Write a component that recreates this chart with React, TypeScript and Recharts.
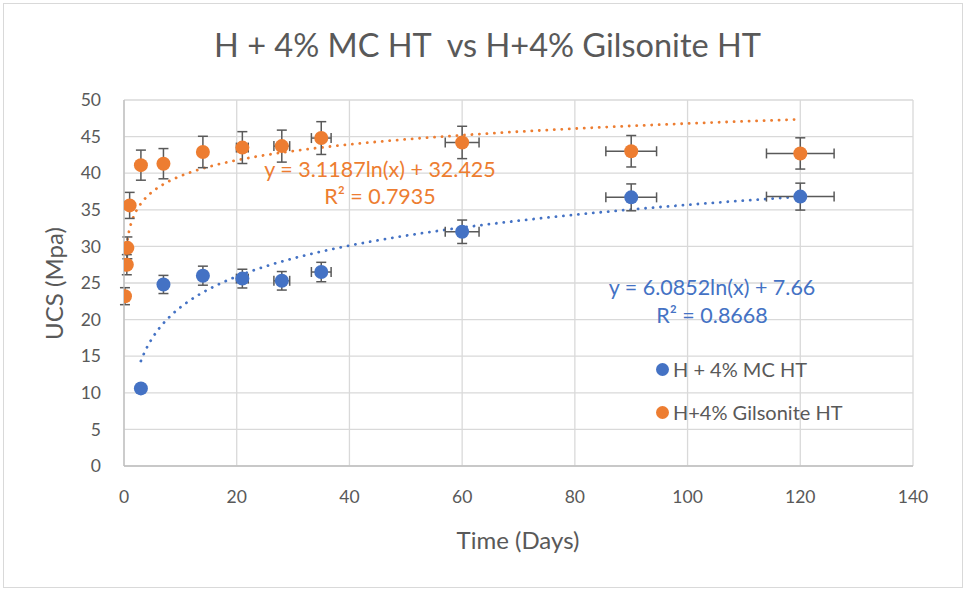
import React from 'react';
import {
  ComposedChart,
  Scatter,
  Line,
  XAxis,
  YAxis,
  CartesianGrid,
  ErrorBar,
} from 'recharts';

// measured UCS values
const mcDays = [3, 7, 14, 21, 28, 35, 60, 90, 120];
const mcUcs = [10.6, 24.8, 26.0, 25.6, 25.3, 26.5, 32.0, 36.7, 36.8];

const gilDays = [0.17, 0.5, 0.6, 1, 3, 7, 14, 21, 28, 35, 60, 90, 120];
const gilUcs = [23.2, 27.5, 29.8, 35.6, 41.1, 41.3, 42.9, 43.5, 43.7, 44.8, 44.2, 43.0, 42.7];

// log trendline coefficients: y = a ln(x) + b
const mcFit = { a: 6.0852, b: 7.66, r2: 0.8668 };
const gilFit = { a: 3.1187, b: 32.425, r2: 0.7935 };

const xTicks = [0, 20, 40, 60, 80, 100, 120, 140];
const yTicks = [0, 5, 10, 15, 20, 25, 30, 35, 40, 45, 50];

// 5% error bars on both axes
const ERR_PCT = 0.05;

const BLUE = '#4472C4';
const ORANGE = '#ED7D31';
const TEXT = '#595959';
const FONT = 'Lato, "Open Sans", sans-serif';

const toPoints = (days: number[], ucs: number[]) =>
  days.map((d, i) => ({ x: d, y: ucs[i], ex: d * ERR_PCT, ey: ucs[i] * ERR_PCT }));

const trendPoints = (fit: { a: number; b: number }, from: number, to: number) => {
  const pts: { x: number; y: number }[] = [];
  const n = 200;
  for (let i = 0; i <= n; i++) {
    const x = from * Math.pow(to / from, i / n);
    pts.push({ x, y: fit.a * Math.log(x) + fit.b });
  }
  return pts;
};

const mcPoints = toPoints(mcDays, mcUcs);
const gilPoints = toPoints(gilDays, gilUcs);
const mcTrend = trendPoints(mcFit, Math.min(...mcDays), Math.max(...mcDays));
const gilTrend = trendPoints(gilFit, Math.min(...gilDays), Math.max(...gilDays));

const Dot = (props: any) => <circle cx={props.cx} cy={props.cy} r={7} fill={props.fill} />;

const fmtEq = (fit: { a: number; b: number }) => `y = ${fit.a}ln(x) + ${fit.b}`;

const legendItems = [
  { name: 'H + 4% MC HT', color: BLUE },
  { name: 'H+4% Gilsonite HT', color: ORANGE },
];

export default function App() {
  const tick = { fill: TEXT, fontSize: 17.5, fontFamily: FONT };
  return (
    <div
      style={{
        position: 'absolute',
        left: 0,
        top: 0,
        width: 967,
        height: 592,
        background: '#fff',
        fontFamily: FONT,
        color: TEXT,
      }}
    >
      <div
        style={{
          position: 'absolute',
          left: 3,
          top: 3,
          width: 958,
          height: 583,
          border: '1px solid #d9d9d9',
        }}
      />
      <ComposedChart
        width={967}
        height={592}
        margin={{ top: 100, right: 54, left: 64, bottom: 86 }}
      >
        <CartesianGrid stroke="#d9d9d9" strokeWidth={1.3} />
        <XAxis
          type="number"
          dataKey="x"
          domain={[0, 140]}
          ticks={xTicks}
          tick={tick}
          tickLine={false}
          tickMargin={19}
          height={40}
          axisLine={{ stroke: '#bfbfbf', strokeWidth: 1.3 }}
          allowDataOverflow
        />
        <YAxis
          type="number"
          dataKey="y"
          domain={[0, 50]}
          ticks={yTicks}
          tick={tick}
          tickLine={false}
          tickMargin={17}
          width={60}
          axisLine={{ stroke: '#bfbfbf', strokeWidth: 1.3 }}
          allowDataOverflow
        />
        <Line
          data={gilTrend}
          dataKey="y"
          type="linear"
          dot={false}
          activeDot={false}
          stroke={ORANGE}
          strokeWidth={2.8}
          strokeDasharray="0.1 7.4"
          strokeLinecap="round"
          isAnimationActive={false}
        />
        <Line
          data={mcTrend}
          dataKey="y"
          type="linear"
          dot={false}
          activeDot={false}
          stroke={BLUE}
          strokeWidth={2.8}
          strokeDasharray="0.1 7.4"
          strokeLinecap="round"
          isAnimationActive={false}
        />
        <Scatter data={gilPoints} dataKey="y" fill={ORANGE} shape={Dot} isAnimationActive={false}>
          <ErrorBar dataKey="ey" direction="y" width={5} stroke={TEXT} strokeWidth={1.5} />
          <ErrorBar dataKey="ex" direction="x" width={5} stroke={TEXT} strokeWidth={1.5} />
        </Scatter>
        <Scatter data={mcPoints} dataKey="y" fill={BLUE} shape={Dot} isAnimationActive={false}>
          <ErrorBar dataKey="ey" direction="y" width={5} stroke={TEXT} strokeWidth={1.5} />
          <ErrorBar dataKey="ex" direction="x" width={5} stroke={TEXT} strokeWidth={1.5} />
        </Scatter>
      </ComposedChart>

      <div
        style={{
          position: 'absolute',
          left: 0,
          width: 975,
          top: 25,
          textAlign: 'center',
          fontSize: 32.5,
          whiteSpace: 'pre',
        }}
      >
        {'H + 4% MC HT  vs H+4% Gilsonite HT'}
      </div>

      <div
        style={{
          position: 'absolute',
          left: 418,
          width: 200,
          top: 525,
          textAlign: 'center',
          fontSize: 24,
        }}
      >
        Time (Days)
      </div>
      <div
        style={{
          position: 'absolute',
          left: 53,
          top: 284,
          width: 0,
          height: 0,
        }}
      >
        <div
          style={{
            position: 'absolute',
            left: -100,
            top: -15,
            width: 200,
            textAlign: 'center',
            fontSize: 24,
            transform: 'rotate(-90deg)',
          }}
        >
          UCS (Mpa)
        </div>
      </div>

      <div
        style={{
          position: 'absolute',
          left: 230,
          width: 300,
          top: 156,
          textAlign: 'center',
          fontSize: 21.5,
          lineHeight: '27px',
          color: ORANGE,
        }}
      >
        <div>{fmtEq(gilFit)}</div>
        <div>R² = {gilFit.r2}</div>
      </div>
      <div
        style={{
          position: 'absolute',
          left: 562,
          width: 300,
          top: 273,
          textAlign: 'center',
          fontSize: 21.5,
          lineHeight: '28px',
          color: BLUE,
        }}
      >
        <div>{fmtEq(mcFit)}</div>
        <div>R² = {mcFit.r2}</div>
      </div>

      <div style={{ position: 'absolute', left: 656, top: 355, fontSize: 20 }}>
        {legendItems.map((item) => (
          <div
            key={item.name}
            style={{ display: 'flex', alignItems: 'center', height: 28, marginBottom: 15 }}
          >
            <span
              style={{
                display: 'inline-block',
                width: 13,
                height: 13,
                borderRadius: '50%',
                background: item.color,
                marginRight: 4,
              }}
            />
            <span>{item.name}</span>
          </div>
        ))}
      </div>
    </div>
  );
}
